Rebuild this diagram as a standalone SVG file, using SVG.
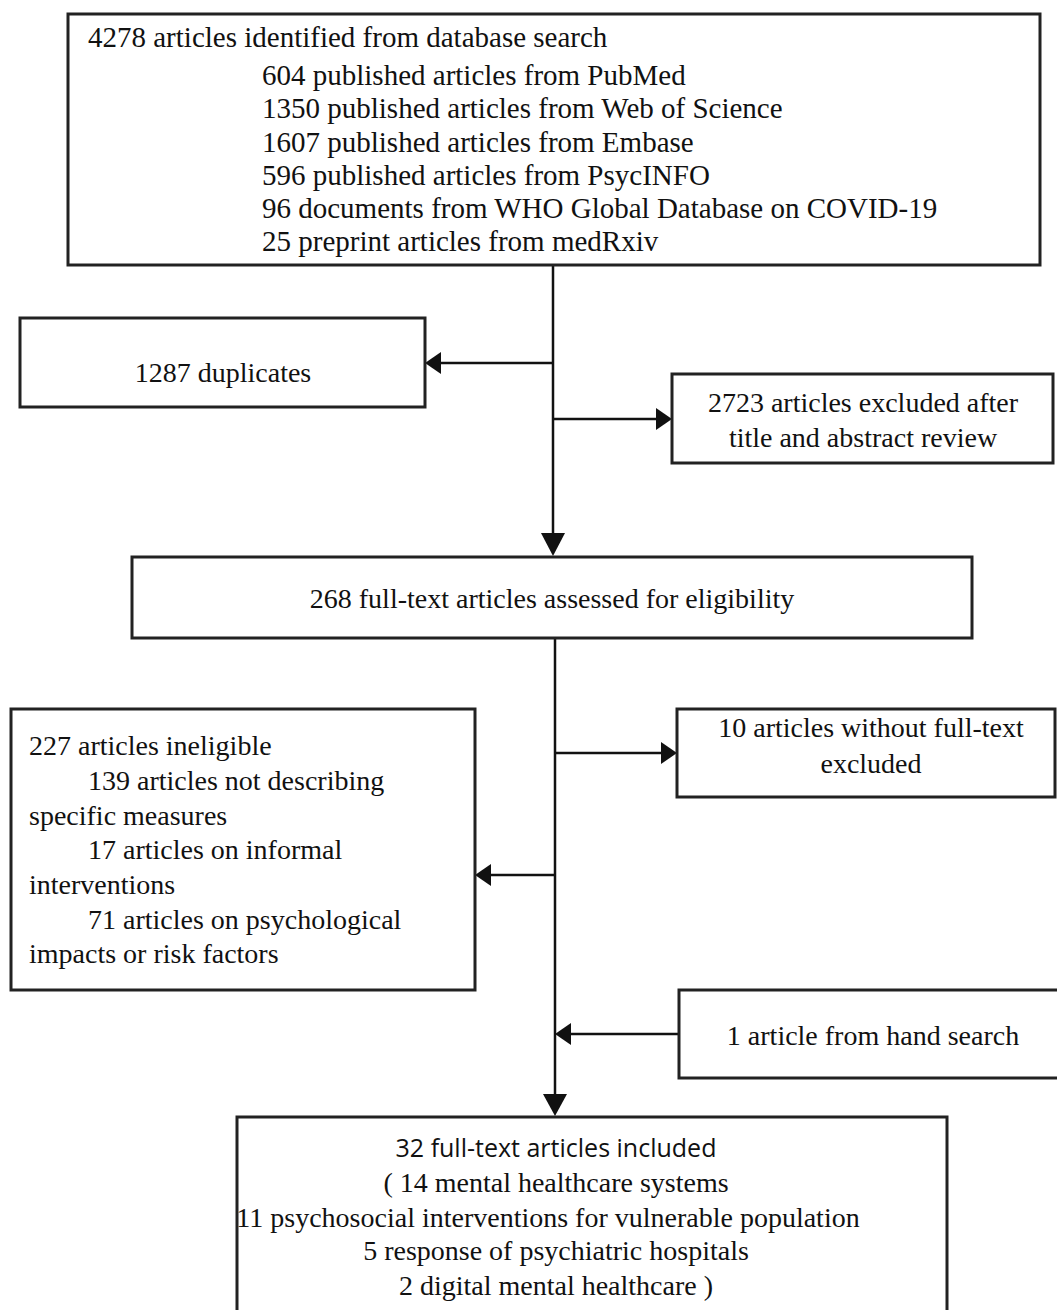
<svg xmlns="http://www.w3.org/2000/svg" width="1057" height="1310" viewBox="0 0 1057 1310">
  <defs>
    <style>
      .box { fill: #fff; stroke: #222; stroke-width: 3; }
      .t { font-family: "Liberation Serif", "Times New Roman", serif; font-size: 28px; fill: #111; }
      .tb { font-size: 29px; }
      .c { text-anchor: middle; }
      .s { font-family: "Open Sans", "Noto Sans", sans-serif; font-size: 25px; fill: #111; }
      .ln { stroke: #111; stroke-width: 2.5; fill: none; }
      .ah { fill: #111; }
    </style>
  </defs>
  <rect width="1057" height="1310" fill="#fff"/>

  <g id="connectors">
    <line class="ln" x1="553" y1="265" x2="553" y2="535"/>
    <polygon class="ah" points="541,533 565,533 553,556"/>
    <line class="ln" x1="553" y1="363" x2="440" y2="363"/>
    <polygon class="ah" points="441,352 441,374 425,363"/>
    <line class="ln" x1="553" y1="419" x2="657" y2="419"/>
    <polygon class="ah" points="656,408 656,430 672,419"/>
    <line class="ln" x1="555" y1="638" x2="555" y2="1095"/>
    <polygon class="ah" points="543,1094 567,1094 555,1116"/>
    <line class="ln" x1="555" y1="753" x2="662" y2="753"/>
    <polygon class="ah" points="661,742 661,764 677,753"/>
    <line class="ln" x1="555" y1="875" x2="490" y2="875"/>
    <polygon class="ah" points="491,864 491,886 475,875"/>
    <line class="ln" x1="679" y1="1034" x2="570" y2="1034"/>
    <polygon class="ah" points="571,1023 571,1045 555,1034"/>
  </g>

  <g id="identified">
    <rect class="box" x="68" y="14" width="972" height="251"/>
    <text class="t tb" x="88" y="47">4278 articles identified from database search</text>
    <text class="t tb" x="262" y="85">604 published articles from PubMed</text>
    <text class="t tb" x="262" y="118">1350 published articles from Web of Science</text>
    <text class="t tb" x="262" y="152">1607 published articles from Embase</text>
    <text class="t tb" x="262" y="185">596 published articles from PsycINFO</text>
    <text class="t tb" x="262" y="218">96 documents from WHO Global Database on COVID-19</text>
    <text class="t tb" x="262" y="251">25 preprint articles from medRxiv</text>
  </g>

  <g id="duplicates">
    <rect class="box" x="20" y="318" width="405" height="89"/>
    <text class="t c" x="223" y="382">1287 duplicates</text>
  </g>

  <g id="excluded-title">
    <rect class="box" x="672" y="374" width="381" height="89"/>
    <text class="t c" x="863" y="412">2723 articles excluded after</text>
    <text class="t c" x="863" y="447">title and abstract review</text>
  </g>

  <g id="fulltext">
    <rect class="box" x="132" y="557" width="840" height="81"/>
    <text class="t c" x="552" y="608">268 full-text articles assessed for eligibility</text>
  </g>

  <g id="ineligible">
    <rect class="box" x="11" y="709" width="464" height="281"/>
    <text class="t" x="29" y="755">227 articles ineligible</text>
    <text class="t" x="88" y="790">139 articles not describing</text>
    <text class="t" x="29" y="825">specific measures</text>
    <text class="t" x="88" y="859">17 articles on informal</text>
    <text class="t" x="29" y="894">interventions</text>
    <text class="t" x="88" y="929">71 articles on psychological</text>
    <text class="t" x="29" y="963">impacts or risk factors</text>
  </g>

  <g id="no-fulltext">
    <rect class="box" x="677" y="709" width="378" height="88"/>
    <text class="t c" x="871" y="737">10 articles without full-text</text>
    <text class="t c" x="871" y="773">excluded</text>
  </g>

  <g id="hand-search">
    <rect class="box" x="679" y="990" width="400" height="88"/>
    <text class="t c" x="873" y="1045">1 article from hand search</text>
  </g>

  <g id="included">
    <rect class="box" x="237" y="1117" width="710" height="210"/>
    <text class="s c" x="556" y="1157">32 full-text articles included</text>
    <text class="t c" x="556" y="1192">( 14 mental healthcare systems</text>
    <text class="t c" x="548" y="1227">11 psychosocial interventions for vulnerable population</text>
    <text class="t c" x="556" y="1260">5 response of psychiatric hospitals</text>
    <text class="t c" x="556" y="1295">2 digital mental healthcare )</text>
  </g>
</svg>
